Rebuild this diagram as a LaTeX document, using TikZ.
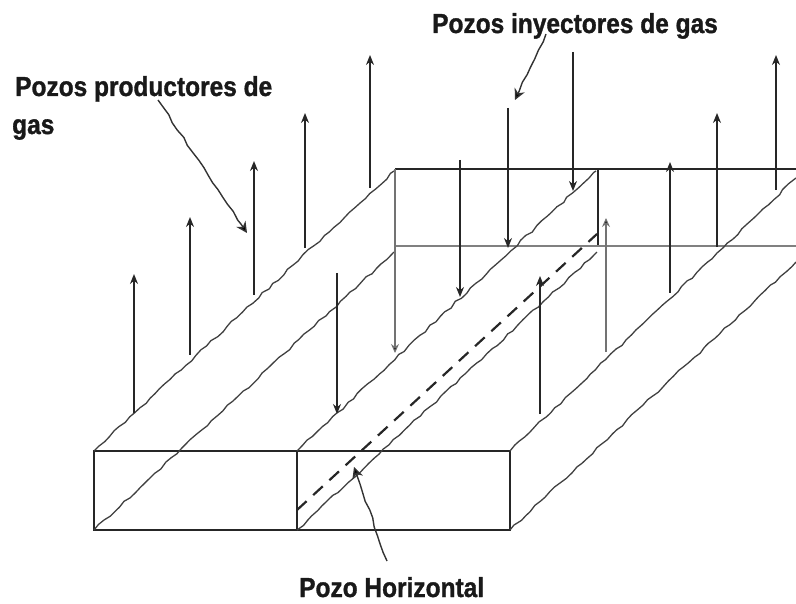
\documentclass[tikz,border=0pt]{standalone}
\usepackage{fontspec}
\usetikzlibrary{arrows.meta,decorations.pathmorphing}
\newfontfamily\lblfont[FakeStretch=0.89,FakeBold=1.2]{Liberation Sans Bold}
\tikzset{
  lbl/.style={inner sep=0pt,anchor=base west,font=\fontsize{27.5}{30}\selectfont\lblfont,text=black!90},
  edge/.style={line width=1.8pt,draw=black!85},
  faint/.style={line width=1.1pt,draw=black!50},
  wavy/.style={line width=1.3pt,draw=black!75,decorate,decoration={random steps,segment length=7pt,amplitude=1.1pt}},
  dashwell/.style={line width=2.2pt,draw=black!85,dash pattern=on 13pt off 9pt},
  well/.style={line width=1.6pt,draw=black!85,-{Stealth[length=10pt,width=8pt]}},
  thinwell/.style={line width=1.1pt,draw=black!55,-{Stealth[length=9pt,width=8pt,fill=black]}},
  pointer/.style={line width=1.4pt,draw=black!80,-{Stealth[length=11pt,width=11pt,fill=black]},decorate,decoration={random steps,segment length=9pt,amplitude=0.9pt,post length=10pt}},
}
\pgfmathsetseed{7}
\begin{document}
\begin{tikzpicture}[x=1pt,y=-1pt]
\useasboundingbox (0,0) rectangle (796,604);
% box corners
\coordinate (fa) at (94,451);
\coordinate (fb) at (297,451);
\coordinate (fc) at (510,451);
\coordinate (ga) at (94,530);
\coordinate (gb) at (297,530);
\coordinate (gc) at (510,530);
\coordinate (ta) at (395,169);
\coordinate (tb) at (598,169);
\coordinate (tc) at (796,169);
\coordinate (ma) at (395,246);
\coordinate (mb) at (598,246);
\coordinate (mc) at (796,246);
\coordinate (ha) at (395,353);
% box
\draw[edge] (fa) -- (fc) -- (gc) -- (ga) -- cycle;
\draw[edge] (fb) -- (gb);
\draw[edge] (ta) -- (tc);
\draw[edge] (tb) -- (mb);
\draw[faint] (ma) -- (mc);
% depth edges
\coordinate (ea) at (394,171);
\coordinate (eb) at (394,252);
\coordinate (ec) at (596,171);
\coordinate (ed) at (597,252);
\coordinate (ee) at (796,178);
\coordinate (ef) at (796,262);
\draw[wavy] (fa) -- (ea);
\draw[wavy] (ga) -- (eb);
\draw[wavy] (fb) -- (ec);
\draw[wavy] (gb) -- (ed);
\draw[wavy] (fc) -- (ee);
\draw[wavy] (gc) -- (ef);
% horizontal well
\coordinate (hs) at (297,510);
\coordinate (he) at (597,234);
\draw[dashwell] (hs) -- (he);
% producer wells
\foreach \n/\x/\b/\t in {p1/134/413/274,p2/190/355/217,p3/254/295/161,p4/305/248/113,p5/370/188/55,p6/540/414/276,p7/670/293/162,p8/717/247/113,p9/776/190/55}{
  \coordinate (\n b) at (\x,\b);
  \coordinate (\n t) at (\x,\t);
  \draw[well] (\n b) -- (\n t);
}
\coordinate (p10b) at (606,352);
\coordinate (p10t) at (606,218);
\draw[thinwell] (p10b) -- (p10t);
% injector wells
\foreach \n/\x/\t/\b in {i1/337/273/414,i2/460/160/297,i3/508/108/248,i4/573/52/191}{
  \coordinate (\n t) at (\x,\t);
  \coordinate (\n b) at (\x,\b);
  \draw[well] (\n t) -- (\n b);
}
\draw[thinwell] (ta) -- (ha);
% labels
\node[lbl] (lp1) at (15,96) {Pozos productores de};
\node[lbl] (lp2) at (12,134) {gas};
\node[lbl] (li) at (432,33) {Pozos inyectores de gas};
\node[lbl] (lh) at (299,597) {Pozo Horizontal};
% pointers
\coordinate (ap1) at (158,100);
\coordinate (ap2) at (247,233);
\coordinate (ai1) at (546,34);
\coordinate (ai2) at (515,100);
\coordinate (ah1) at (387,561);
\coordinate (ah2) at (354,467);
\draw[pointer] (ap1) -- (ap2);
\draw[pointer] (ai1) -- (ai2);
\draw[pointer] (ah1) -- (ah2);
\end{tikzpicture}
\end{document}
